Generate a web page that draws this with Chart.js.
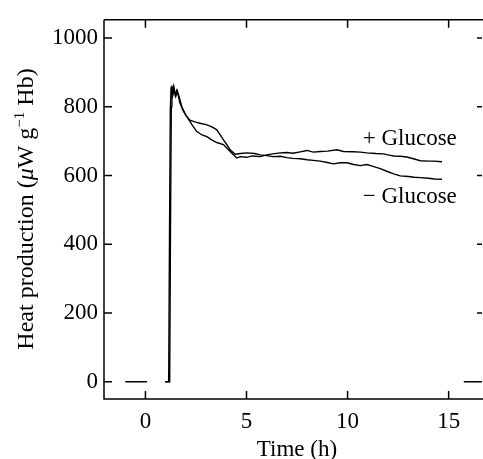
<!DOCTYPE html>
<html>
<head>
<meta charset="utf-8">
<script src="https://cdn.jsdelivr.net/npm/chart.js@4.4.1/dist/chart.umd.min.js"></script>
<style>
  html, body { margin: 0; padding: 0; background: #fff; }
  #wrap { width: 483px; height: 459px; }
</style>
</head>
<body>
<div id="wrap"><canvas id="heatChart"></canvas></div>
<script>
// + Glucose trace (time in h, heat in µW/g Hb)
const plusTime = [0.98, 1.2, 1.24, 1.28, 1.31, 1.36, 1.42, 1.5, 1.58, 1.7, 1.85, 2.05, 2.3, 2.54, 2.8, 3.04, 3.3, 3.53, 3.86, 4.19, 4.52, 4.7, 5.0, 5.3, 5.68, 6.0, 6.3, 6.67, 7.0, 7.3, 7.66, 7.99, 8.3, 8.65, 9.0, 9.47, 9.8, 10.3, 10.63, 10.96, 11.4, 11.78, 12.0, 12.28, 12.6, 12.94, 13.3, 13.6, 14.0, 14.27, 14.67];
const plusHeat = [0, 0, 450, 800, 862, 835, 850, 830, 845, 812, 790, 771, 748, 728, 718, 713, 703, 696, 690, 670, 651, 655, 653, 657, 655, 660, 663, 666, 667, 665, 669, 673, 668, 670, 671, 675, 670, 669, 668, 666, 664, 663, 660, 657, 656, 654, 648, 643, 642, 642, 640];

// - Glucose trace
const minusTime = [0.98, 1.15, 1.19, 1.23, 1.27, 1.32, 1.4, 1.47, 1.55, 1.62, 1.7, 1.8, 2.0, 2.2, 2.45, 2.7, 3.0, 3.2, 3.4, 3.53, 3.7, 3.86, 4.05, 4.19, 4.44, 4.7, 5.0, 5.4, 5.68, 6.0, 6.3, 6.67, 7.0, 7.3, 7.66, 8.0, 8.3, 8.65, 9.0, 9.3, 9.64, 9.97, 10.3, 10.63, 10.96, 11.3, 11.62, 12.0, 12.28, 12.61, 13.0, 13.3, 13.6, 14.0, 14.3, 14.67];
const minusHeat = [0, 0, 420, 790, 858, 840, 860, 835, 848, 838, 822, 800, 775, 761, 756, 752, 748, 744, 738, 733, 718, 704, 688, 675, 662, 664, 666, 664, 660, 658, 655, 656, 652, 650, 649, 646, 644, 642, 638, 634, 637, 637, 632, 629, 632, 626, 620, 611, 605, 599, 597, 595, 594, 592, 590, 589];

// baseline pieces before and after the run
const baseTime = [-1.0, 0.08, null, 15.75, 16.44];
const baseHeat = [0, 0, null, 0, 0];

const xTicks = [0, 5, 10, 15];
const yTicks = [0, 200, 400, 600, 800, 1000];

const seriesNames = ['+ Glucose', '\u2212 Glucose'];
const labelSpots = [[10.75, 706], [10.75, 537]];

const FONT = "'Liberation Serif', 'Times New Roman', serif";

function toPoints(xs, ys) {
    return xs.map((x, i) => (x === null ? { x: NaN, y: NaN } : { x: x, y: ys[i] }));
}

function lineSet(label, xs, ys) {
    return {
        label: label,
        data: toPoints(xs, ys),
        borderColor: '#000',
        borderWidth: 1.4,
        pointRadius: 0,
        fill: false,
        tension: 0,
        spanGaps: false
    };
}

// box, inward ticks, titles and curve labels
const decorations = {
    id: 'decorations',
    afterDraw(chart) {
        const ctx = chart.ctx;
        const a = chart.chartArea;
        const xs = chart.scales.x;
        const ys = chart.scales.y;
        const tl = 8;
        ctx.save();
        ctx.strokeStyle = '#000';
        ctx.lineWidth = 1.5;
        ctx.beginPath();
        ctx.moveTo(a.left, a.top);
        ctx.lineTo(a.right, a.top);
        ctx.moveTo(a.left, a.top);
        ctx.lineTo(a.left, a.bottom);
        ctx.lineTo(a.right, a.bottom);
        xTicks.forEach(v => {
            const px = xs.getPixelForValue(v);
            ctx.moveTo(px, a.bottom);
            ctx.lineTo(px, a.bottom - tl);
            ctx.moveTo(px, a.top);
            ctx.lineTo(px, a.top + tl);
        });
        yTicks.forEach(v => {
            const py = ys.getPixelForValue(v);
            ctx.moveTo(a.left, py);
            ctx.lineTo(a.left + tl, py);
            ctx.moveTo(a.right - 1, py);
            ctx.lineTo(a.right - 1 - tl + 3, py);
        });
        ctx.stroke();

        ctx.fillStyle = '#000';
        ctx.font = '23px ' + FONT;
        ctx.textBaseline = 'middle';
        ctx.textAlign = 'left';
        seriesNames.forEach((name, i) => {
            ctx.fillText(name, xs.getPixelForValue(labelSpots[i][0]), ys.getPixelForValue(labelSpots[i][1]));
        });

        // x title
        ctx.textAlign = 'center';
        ctx.textBaseline = 'alphabetic';
        ctx.fillText('Time (h)', 297, 456);

        // y title with italic mu and superscript
        const parts = [
            ['Heat production (', '24px ' + FONT, 0],
            ['\u03bc', 'italic 24px ' + FONT, 0],
            ['W g', '24px ' + FONT, 0],
            ['\u22121', '15px ' + FONT, -9],
            [' Hb)', '24px ' + FONT, 0]
        ];
        let total = 0;
        parts.forEach(p => { ctx.font = p[1]; total += ctx.measureText(p[0]).width; });
        ctx.translate(33, 209);
        ctx.rotate(-Math.PI / 2);
        ctx.textAlign = 'left';
        let cx = -total / 2;
        parts.forEach(p => {
            ctx.font = p[1];
            ctx.fillText(p[0], cx, p[2]);
            cx += ctx.measureText(p[0]).width;
        });
        ctx.restore();
    }
};

new Chart(document.getElementById('heatChart'), {
    type: 'line',
    data: {
        datasets: [
            lineSet(seriesNames[0], plusTime, plusHeat),
            lineSet(seriesNames[1], minusTime, minusHeat),
            lineSet('baseline', baseTime, baseHeat)
        ]
    },
    options: {
        responsive: true,
        maintainAspectRatio: false,
        animation: false,
        layout: { padding: { top: 15, left: 0, right: 0, bottom: 0 } },
        plugins: { legend: { display: false }, tooltip: { enabled: false } },
        scales: {
            x: {
                type: 'linear',
                min: -2.05,
                max: 16.7,
                grid: { display: false, drawTicks: false },
                border: { display: false },
                afterBuildTicks: s => { s.ticks = xTicks.map(v => ({ value: v })); },
                afterFit: s => { s.height = 60; },
                ticks: { color: '#000', padding: 9, font: { family: FONT, size: 23 }, callback: v => String(v) }
            },
            y: {
                min: -50,
                max: 1053,
                grid: { display: false, drawTicks: false },
                border: { display: false },
                afterBuildTicks: s => { s.ticks = yTicks.map(v => ({ value: v })); },
                afterFit: s => { s.width = 104; },
                ticks: { color: '#000', padding: 6, font: { family: FONT, size: 23 }, callback: v => String(v) }
            }
        }
    },
    plugins: [decorations]
});
</script>
</body>
</html>
